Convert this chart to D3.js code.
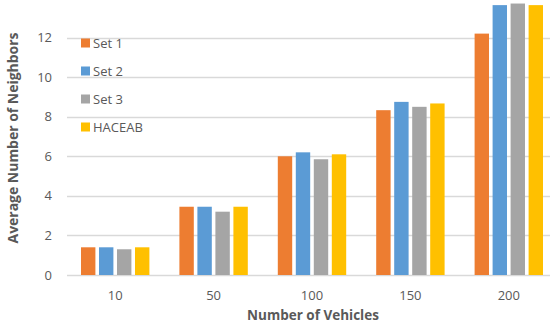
<!DOCTYPE html>
<html>
<head>
<meta charset="utf-8">
<script src="https://cdn.jsdelivr.net/npm/d3@7"></script>
<style>
  body { margin: 0; background: #fff; }
  svg { font-family: "Open Sans", "Noto Sans", sans-serif; }
</style>
</head>
<body>
<svg id="chart" width="550" height="330"></svg>
<script>
const vehicles = ["10", "50", "100", "150", "200"];
const series = ["Set 1", "Set 2", "Set 3", "HACEAB"];
const set1 = [1.4, 3.45, 6.0, 8.33, 12.2];
const set2 = [1.4, 3.45, 6.2, 8.75, 13.64];
const set3 = [1.3, 3.2, 5.85, 8.5, 13.72];
const haceab = [1.4, 3.45, 6.1, 8.67, 13.64];
const yTicks = [0, 2, 4, 6, 8, 10, 12];
const colors = ["#ED7D31", "#5B9BD5", "#A5A5A5", "#FFC000"];

const values = [set1, set2, set3, haceab];
const svg = d3.select("#chart");

const x = d3.scaleBand().domain(vehicles).range([68, 560]);
const xs = d3.scaleBand().domain(series).range([13, x.bandwidth() - 17]).paddingInner(0.2);
const y = d3.scaleLinear().domain([0, 14]).range([275, -2]);

// gridlines
svg.append("g")
  .selectAll("line")
  .data(yTicks)
  .enter()
  .append("line")
  .attr("x1", 67)
  .attr("x2", 550)
  .attr("y1", d => Math.round(y(d)) + 0.5)
  .attr("y2", d => Math.round(y(d)) + 0.5)
  .attr("stroke", "#D9D9D9")
  .attr("stroke-width", 1.5);

// y tick labels
svg.append("g")
  .selectAll("text")
  .data(yTicks)
  .enter()
  .append("text")
  .attr("x", 52)
  .attr("y", d => y(d))
  .attr("dy", "0.35em")
  .attr("text-anchor", "end")
  .attr("font-size", 13)
  .attr("fill", "#595959")
  .text(d => d);

// bars
vehicles.forEach((v, i) => {
  const g = svg.append("g").attr("transform", `translate(${x(v)},0)`);
  g.selectAll("rect")
    .data(series.map((s, j) => ({s: s, val: values[j][i], c: colors[j]})))
    .enter()
    .append("rect")
    .attr("x", d => xs(d.s))
    .attr("y", d => y(d.val))
    .attr("width", xs.bandwidth())
    .attr("height", d => y(0) - y(d.val))
    .attr("fill", d => d.c);
});

// x labels
svg.append("g")
  .selectAll("text")
  .data(vehicles)
  .enter()
  .append("text")
  .attr("x", d => x(d) + x.bandwidth() / 2 - 2)
  .attr("y", 295)
  .attr("dy", "0.35em")
  .attr("text-anchor", "middle")
  .attr("font-size", 13)
  .attr("fill", "#595959")
  .text(d => d);

// axis titles
svg.append("text")
  .attr("x", 313)
  .attr("y", 320)
  .attr("text-anchor", "middle")
  .attr("font-size", 13.5)
  .attr("font-weight", "bold")
  .attr("fill", "#595959")
  .text("Number of Vehicles");

svg.append("text")
  .attr("transform", "translate(18,138) rotate(-90)")
  .attr("text-anchor", "middle")
  .attr("font-size", 13.5)
  .attr("font-weight", "bold")
  .attr("fill", "#595959")
  .attr("textLength", 211)
  .attr("lengthAdjust", "spacingAndGlyphs")
  .text("Average Number of Neighbors");

// legend
const leg = svg.append("g");
series.forEach((s, j) => {
  const ly = 43 + j * 28;
  leg.append("rect")
    .attr("x", 81)
    .attr("y", ly - 4.5)
    .attr("width", 9)
    .attr("height", 9)
    .attr("fill", colors[j]);
  leg.append("text")
    .attr("x", 93)
    .attr("y", ly)
    .attr("dy", "0.35em")
    .attr("font-size", 13)
    .attr("fill", "#595959")
    .text(s);
});
</script>
</body>
</html>
